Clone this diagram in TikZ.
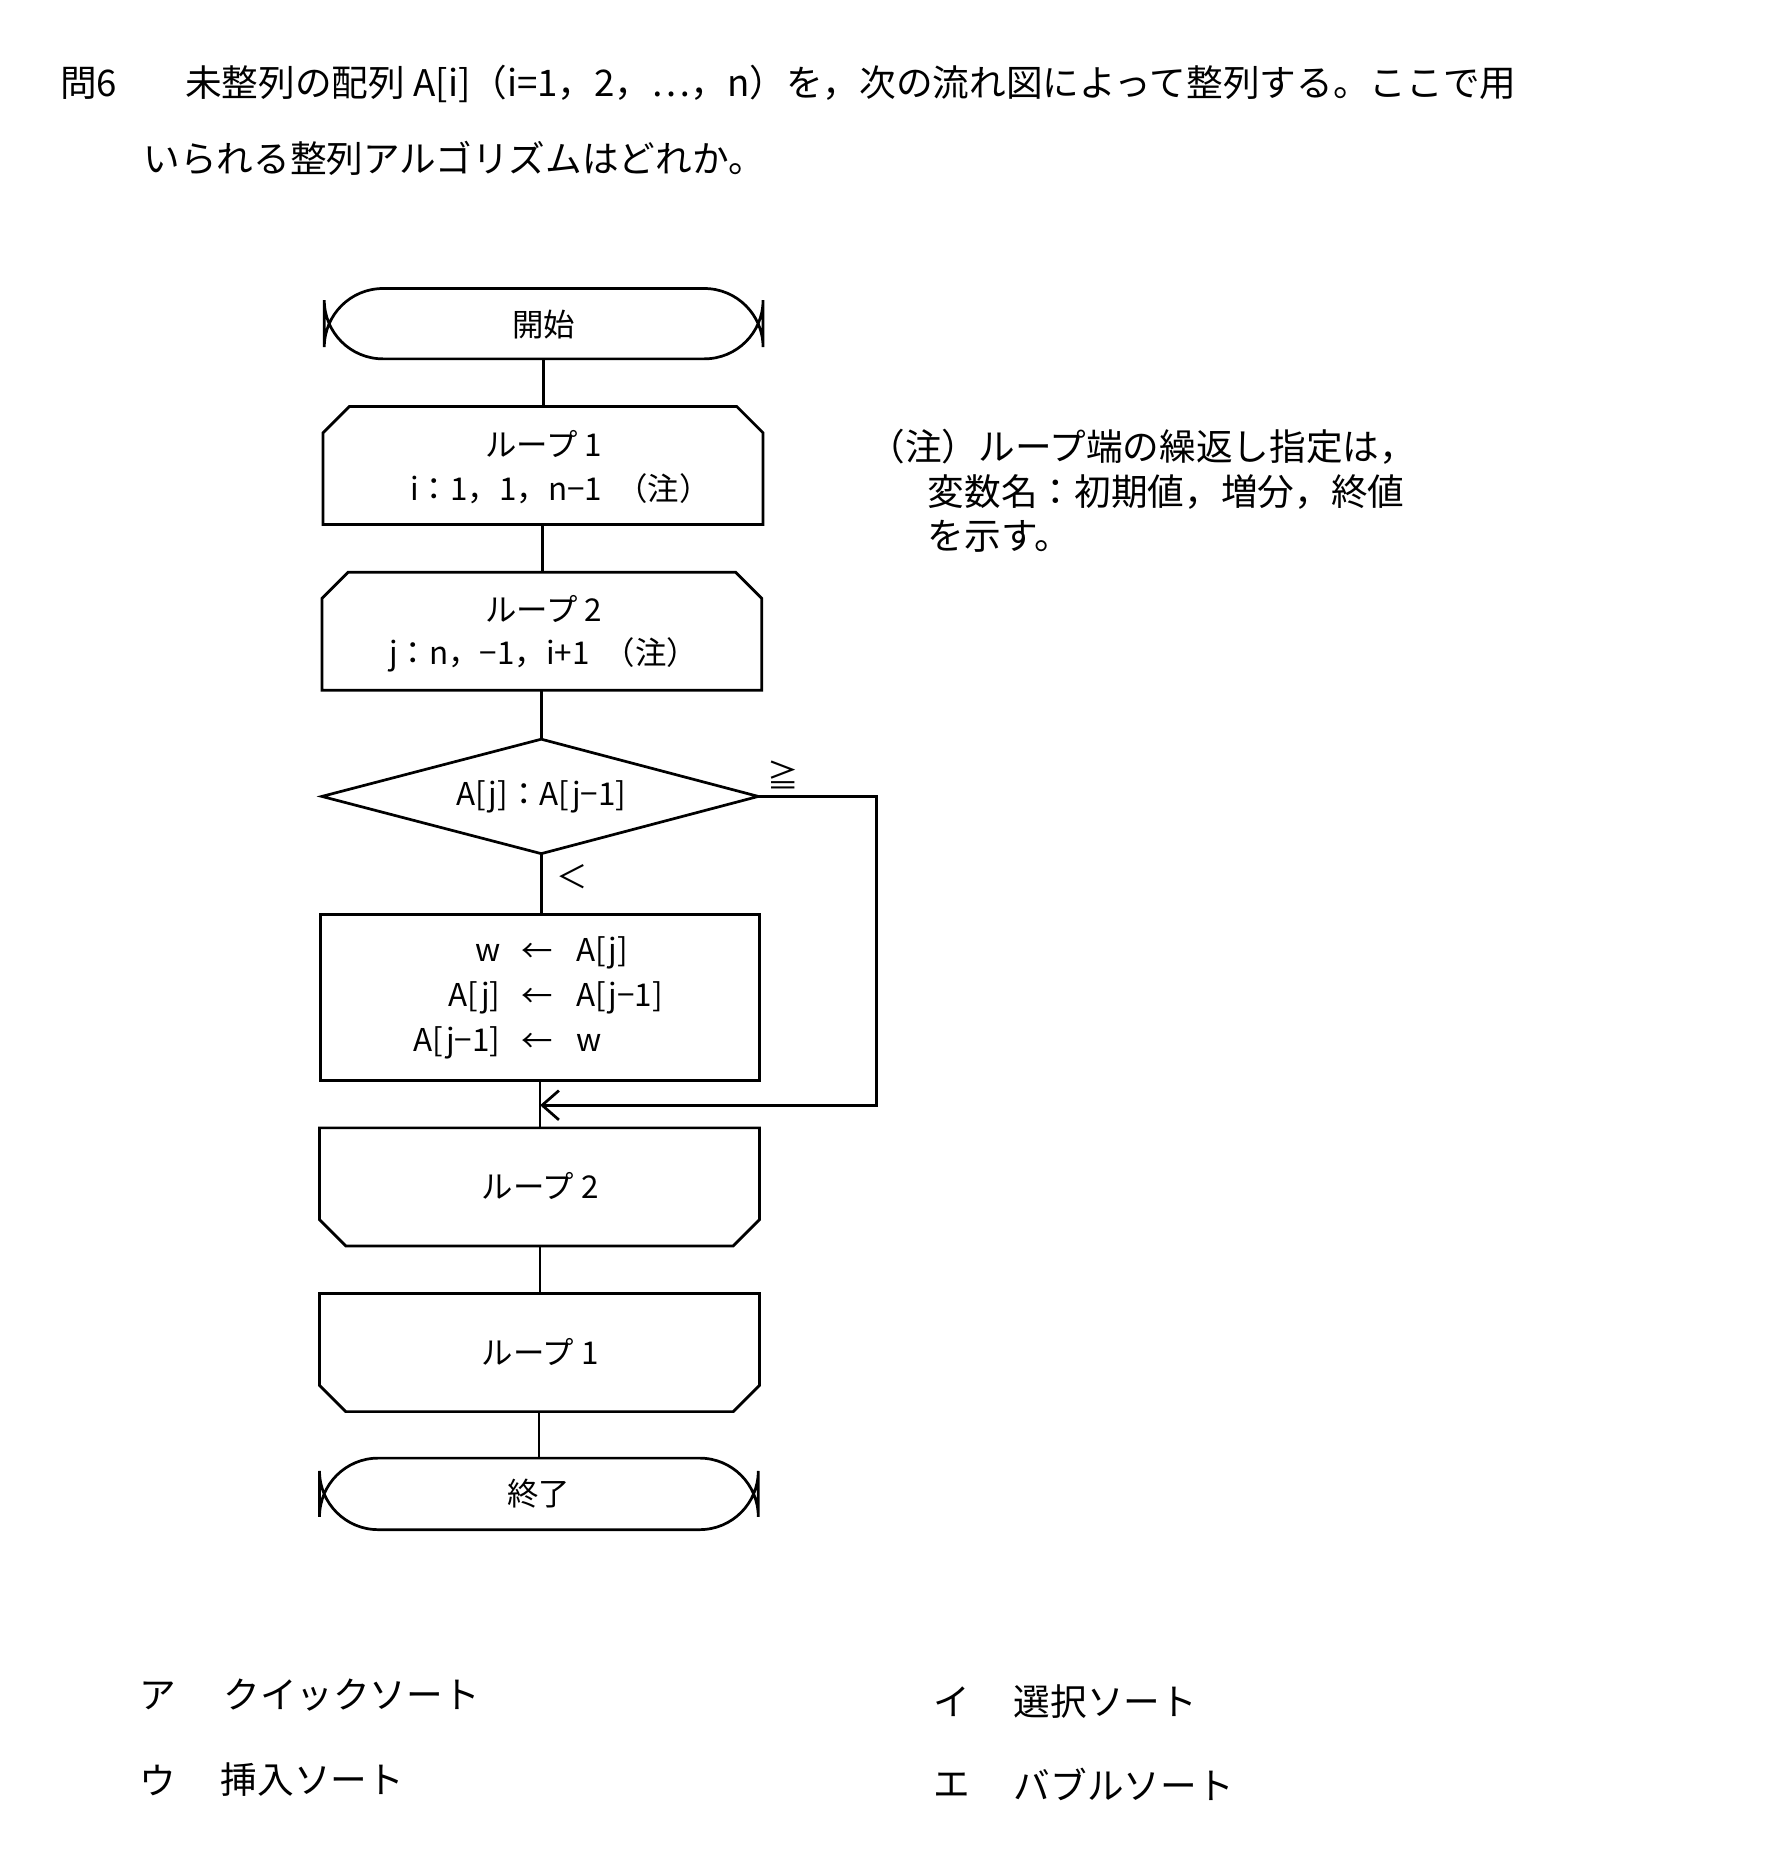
\documentclass[tikz,border=0pt]{standalone}
\usepackage{fontspec}
\setmainfont{Noto Sans CJK JP}
\usetikzlibrary{shapes.geometric,arrows.meta}
\begin{document}
\begin{tikzpicture}[x=0.02cm,y=-0.02cm,
  every node/.style={inner sep=0pt,font=\fontsize{15}{18}\selectfont},
  big/.style={font=\fontsize{17.5}{21}\selectfont},
  ln/.style={line width=1.3pt},
  lp/.style={align=center}]
\useasboundingbox (0,0) rectangle (1500,1571);
% title
\node[big,anchor=west] (q) at (50,70) {問6};
\node[big,anchor=west] (t1) at (155,70) {未整列の配列 A[i]（i=1，2，…，n）を，次の流れ図によって整列する。ここで用};
\node[big,anchor=west] (t2) at (120,133) {いられる整列アルゴリズムはどれか。};
% start
\draw[ln,rounded corners=28] (272,242) rectangle (640,301);
\node (s) at (456,272) {開始};
% loop1 start
\draw[ln] (271,440) -- (271,363) -- (293,341) -- (618,341) -- (640,363) -- (640,440) -- cycle;
\node (l1a) at (456,372) {ループ\ 1};
\node (l1b) at (470,410) {i：1，1，n−1\ \ （注）};
% loop2 start
\draw[ln] (270,579) -- (270,502) -- (292,480) -- (617,480) -- (639,502) -- (639,579) -- cycle;
\node (l2a) at (456,511) {ループ\ 2};
\node (l2b) at (456,549) {j：n，−1，i+1\ \ （注）};
% diamond
\draw[ln] (270,668) -- (454,620) -- (636,668) -- (454,716) -- cycle;
\node (d) at (454,668) {A[j]：A[j−1]};
\node (ge) at (657,650) {≧};
\node (lt) at (480,735) {＜};
% process
\draw[ln] (269,767) rectangle (637,906);
\node[anchor=east] at (420,799) {w};
\node[anchor=east] at (420,837) {A[j]};
\node[anchor=east] at (420,875) {A[j−1]};
\node at (451,799) {←};\node at (451,837) {←};\node at (451,875) {←};
\node[anchor=west] at (483,799) {A[j]};
\node[anchor=west] at (483,837) {A[j−1]};
\node[anchor=west] at (483,875) {w};
% loop2 end
\draw[ln] (268,946) -- (637,946) -- (637,1023) -- (615,1045) -- (290,1045) -- (268,1023) -- cycle;
\node (e2) at (453,995) {ループ\ 2};
% loop1 end
\draw[ln] (268,1085) -- (637,1085) -- (637,1162) -- (615,1184) -- (290,1184) -- (268,1162) -- cycle;
\node (e1) at (453,1134) {ループ\ 1};
% end
\draw[ln,rounded corners=28] (268,1223) rectangle (636,1283);
\node (en) at (452,1253) {終了};
% connectors
\draw[ln] (456,301) -- (456,341);
\draw[ln] (455,440) -- (455,480);
\draw[ln] (454,579) -- (454,620);
\draw[ln] (454,716) -- (454,767);
\draw[ln] (453,906) -- (453,946);
\draw[ln] (453,1045) -- (453,1085);
\draw[ln] (452,1184) -- (452,1223);
\draw[ln,-{Straight Barb[length=8pt,width=14pt]}] (636,668) -- (735,668) -- (735,927) -- (453,927);
% note
\node[big,anchor=west] (n1) at (728,375) {（注）ループ端の繰返し指定は，};
\node[big,anchor=west] (n2) at (778,413) {変数名：初期値，増分，終値};
\node[big,anchor=west] (n3) at (778,450) {を示す。};
% choices
\node[big,anchor=west] at (117,1422) {ア};
\node[big,anchor=west] at (187,1422) {クイックソート};
\node[big,anchor=west] at (783,1427) {イ};
\node[big,anchor=west] at (850,1427) {選択ソート};
\node[big,anchor=west] at (117,1493) {ウ};
\node[big,anchor=west] at (185,1493) {挿入ソート};
\node[big,anchor=west] at (783,1497) {エ};
\node[big,anchor=west] at (850,1497) {バブルソート};
\end{tikzpicture}
\end{document}
